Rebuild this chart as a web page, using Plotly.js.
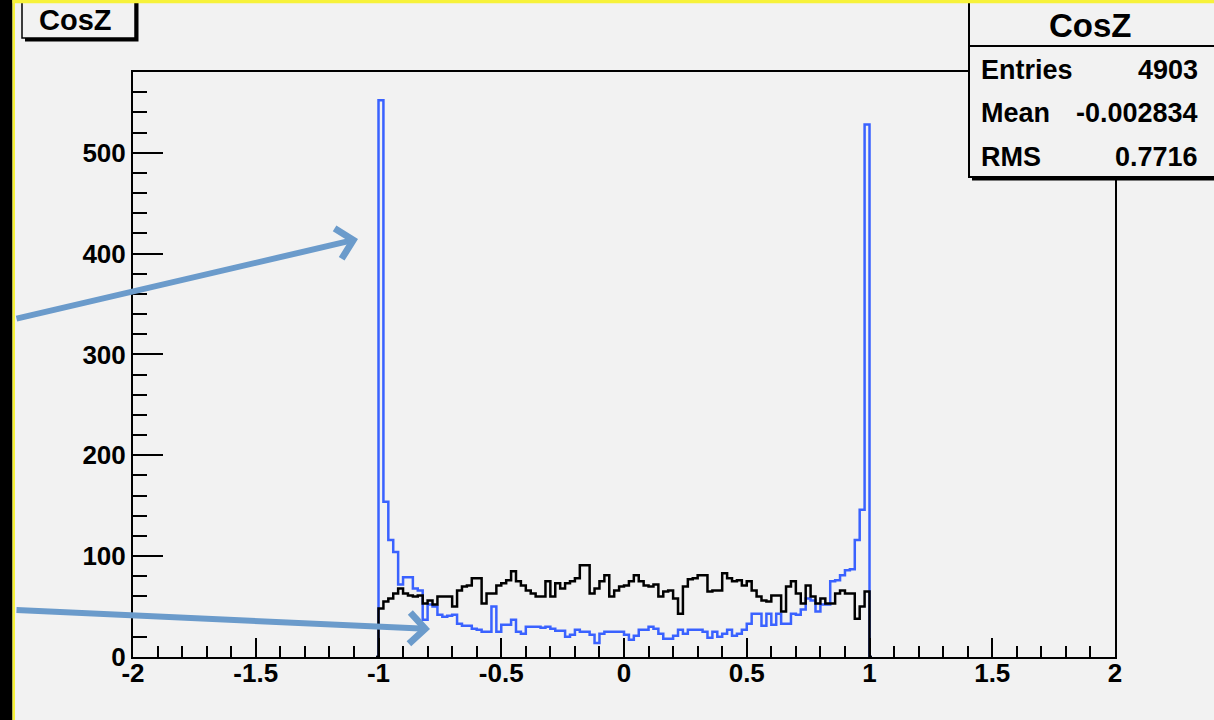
<!DOCTYPE html>
<html>
<head>
<meta charset="utf-8">
<script src="https://cdn.plot.ly/plotly-3.0.1.min.js"></script>
<style>
  html, body { margin: 0; padding: 0; background: #f2f2f2; }
  #chart { width: 1214px; height: 720px; }
</style>
</head>
<body>
<div id="chart"></div>
<script>
// ---- data ----
const binLow = -1.0;
const binWidth = 0.02;
// blue histogram (CosZ, 100 bins from -1 to 1)
const blueCounts = [
  552, 154, 116, 104, 72, 79, 79, 68, 66, 37,
  52, 50, 42, 40, 41, 42, 33, 31, 31, 28,
  27, 25, 25, 50, 25, 32, 32, 37, 25, 23,
  30, 30, 30, 29, 30, 28, 26, 26, 20, 22,
  27, 25, 25, 22, 14, 23, 25, 25, 25, 25,
  22, 17, 21, 27, 27, 30, 28, 23, 18, 18,
  21, 27, 23, 27, 27, 27, 25, 19, 25, 20,
  23, 27, 21, 23, 27, 33, 43, 43, 31, 43,
  32, 43, 33, 33, 43, 42, 47, 58, 56, 45,
  52, 52, 75, 76, 81, 86, 87, 116, 146, 528
];
// black histogram (overlaid, same binning)
const blackCounts = [
  48, 55, 58, 63, 68, 63, 61, 60, 61, 53,
  56, 52, 60, 60, 60, 50, 66, 70, 71, 78,
  78, 53, 63, 63, 71, 73, 76, 85, 75, 71,
  66, 63, 60, 60, 75, 60, 73, 68, 73, 75,
  78, 91, 91, 63, 68, 75, 81, 60, 66, 70,
  71, 75, 81, 75, 71, 70, 72, 60, 65, 66,
  58, 43, 70, 77, 78, 81, 81, 65, 66, 66,
  83, 78, 75, 76, 71, 75, 66, 60, 56, 55,
  61, 61, 45, 70, 75, 63, 53, 71, 60, 53,
  58, 53, 53, 63, 66, 63, 63, 38, 50, 65
];
const xTickVals = [-2, -1.5, -1, -0.5, 0, 0.5, 1, 1.5, 2];
const xTickText = ["-2", "-1.5", "-1", "-0.5", "0", "0.5", "1", "1.5", "2"];
const yTickVals = [0, 100, 200, 300, 400, 500];
const yTickText = ["0", "100", "200", "300", "400", "500"];
const histTitle = "CosZ";
const statNames = ["Entries", "Mean", "RMS"];
const statValues = ["4903", "-0.002834", "0.7716"];

// ---- geometry helpers (pixel -> paper) ----
const W = 1214, H = 720;
const mL = 133, mR = 99, mT = 72, mB = 63;
const pw = W - mL - mR, ph = H - mT - mB;
const PX = x => (x - mL) / pw;
const PY = y => (H - mB - y) / ph;

const FONT = "Liberation Sans, Arial, Helvetica, sans-serif";

function histTrace(counts, color) {
  // empty neighbouring bins (0) so the outline drops to the baseline
  const y = [0].concat(counts, [0]);
  return {
    type: "scatter",
    mode: "lines",
    x0: binLow - binWidth / 2,
    dx: binWidth,
    y: y,
    line: { shape: "hvh", color: color, width: 2.5 },
    hoverinfo: "skip",
    showlegend: false
  };
}

const traces = [histTrace(blueCounts, "#3a62ff"), histTrace(blackCounts, "#000000")];

const shapes = [];
const annotations = [];

// title box (top-left) with shadow
shapes.push({ type: "rect", xref: "paper", yref: "paper", layer: "above",
  x0: PX(25), x1: PX(138.5), y0: PY(-10), y1: PY(41.5),
  fillcolor: "#000", line: { width: 0 } });
shapes.push({ type: "rect", xref: "paper", yref: "paper", layer: "above",
  x0: PX(22), x1: PX(135), y0: PY(-10), y1: PY(38),
  fillcolor: "#f2f2f2", line: { color: "#000", width: 1.5 } });
annotations.push({ xref: "paper", yref: "paper", x: PX(75), y: PY(20),
  text: histTitle, showarrow: false, xanchor: "center", yanchor: "middle",
  font: { family: FONT, size: 29, color: "#000", weight: "bold" } });

// stats box (top-right) with shadow
shapes.push({ type: "rect", xref: "paper", yref: "paper", layer: "above",
  x0: PX(972), x1: PX(1230), y0: PY(-10), y1: PY(180.5),
  fillcolor: "#000", line: { width: 0 } });
shapes.push({ type: "rect", xref: "paper", yref: "paper", layer: "above",
  x0: PX(969), x1: PX(1228), y0: PY(-10), y1: PY(177),
  fillcolor: "#f2f2f2", line: { color: "#000", width: 2 } });
shapes.push({ type: "line", xref: "paper", yref: "paper", layer: "above",
  x0: PX(969), x1: PX(1228), y0: PY(46), y1: PY(46),
  line: { color: "#000", width: 2 } });
annotations.push({ xref: "paper", yref: "paper", x: PX(1090), y: PY(25),
  text: histTitle, showarrow: false, xanchor: "center", yanchor: "middle",
  font: { family: FONT, size: 33, color: "#000", weight: "bold" } });
const rowY = [70, 113, 157];
statNames.forEach((n, i) => {
  annotations.push({ xref: "paper", yref: "paper", x: PX(979), y: PY(rowY[i]),
    text: n, showarrow: false, xanchor: "left", yanchor: "middle",
    font: { family: FONT, size: 27, color: "#000", weight: "bold" } });
  annotations.push({ xref: "paper", yref: "paper", x: PX(1200), y: PY(rowY[i]),
    text: statValues[i], showarrow: false, xanchor: "right", yanchor: "middle",
    font: { family: FONT, size: 27, color: "#000", weight: "bold" } });
});

// frame decorations: black strip + yellow border
shapes.push({ type: "rect", xref: "paper", yref: "paper", layer: "above",
  x0: PX(-5), x1: PX(12.5), y0: PY(-5), y1: PY(730),
  fillcolor: "#000", line: { width: 0 } });
shapes.push({ type: "rect", xref: "paper", yref: "paper", layer: "above",
  x0: PX(12.5), x1: PX(15), y0: PY(-5), y1: PY(730),
  fillcolor: "#f7f23a", line: { width: 0 } });
shapes.push({ type: "rect", xref: "paper", yref: "paper", layer: "above",
  x0: PX(12.5), x1: PX(1230), y0: PY(-5), y1: PY(3.3),
  fillcolor: "#f7f23a", line: { width: 0 } });

// pointing arrows
const arrowColor = "#6b9bcb";
annotations.push({ xref: "paper", yref: "paper", x: PX(358), y: PY(239),
  ax: -343, ay: 80, text: "", showarrow: true, arrowhead: 4, arrowsize: 1.0,
  arrowwidth: 6, arrowcolor: arrowColor, standoff: 0 });
annotations.push({ xref: "paper", yref: "paper", x: PX(430), y: PY(629),
  ax: -415, ay: -19, text: "", showarrow: true, arrowhead: 4, arrowsize: 1.0,
  arrowwidth: 6, arrowcolor: arrowColor, standoff: 0 });

const axisCommon = {
  showline: true, linecolor: "#000", linewidth: 2, mirror: true,
  showgrid: false, zeroline: false, ticks: "inside", tickcolor: "#000",
  tickwidth: 2, tickmode: "array",
  tickfont: { family: FONT, size: 26, color: "#000", weight: "bold" }
};

const layout = {
  width: W, height: H,
  margin: { l: mL, r: mR, t: mT, b: mB, pad: 0 },
  paper_bgcolor: "#f2f2f2", plot_bgcolor: "#f2f2f2",
  showlegend: false,
  xaxis: Object.assign({}, axisCommon, {
    range: [-2, 2], tickvals: xTickVals, ticktext: xTickText, ticklen: 19,
    ticklabelstandoff: -8,
    minor: { dtick: 0.1, tick0: -2, ticklen: 11, tickwidth: 2, tickcolor: "#000", ticks: "inside" }
  }),
  yaxis: Object.assign({}, axisCommon, {
    range: [0, 580], tickvals: yTickVals, ticktext: yTickText, ticklen: 30,
    minor: { dtick: 20, tick0: 0, ticklen: 14, tickwidth: 2, tickcolor: "#000", ticks: "inside" }
  }),
  shapes: shapes,
  annotations: annotations
};

Plotly.newPlot("chart", traces, layout, { staticPlot: true, displayModeBar: false });
</script>
</body>
</html>
